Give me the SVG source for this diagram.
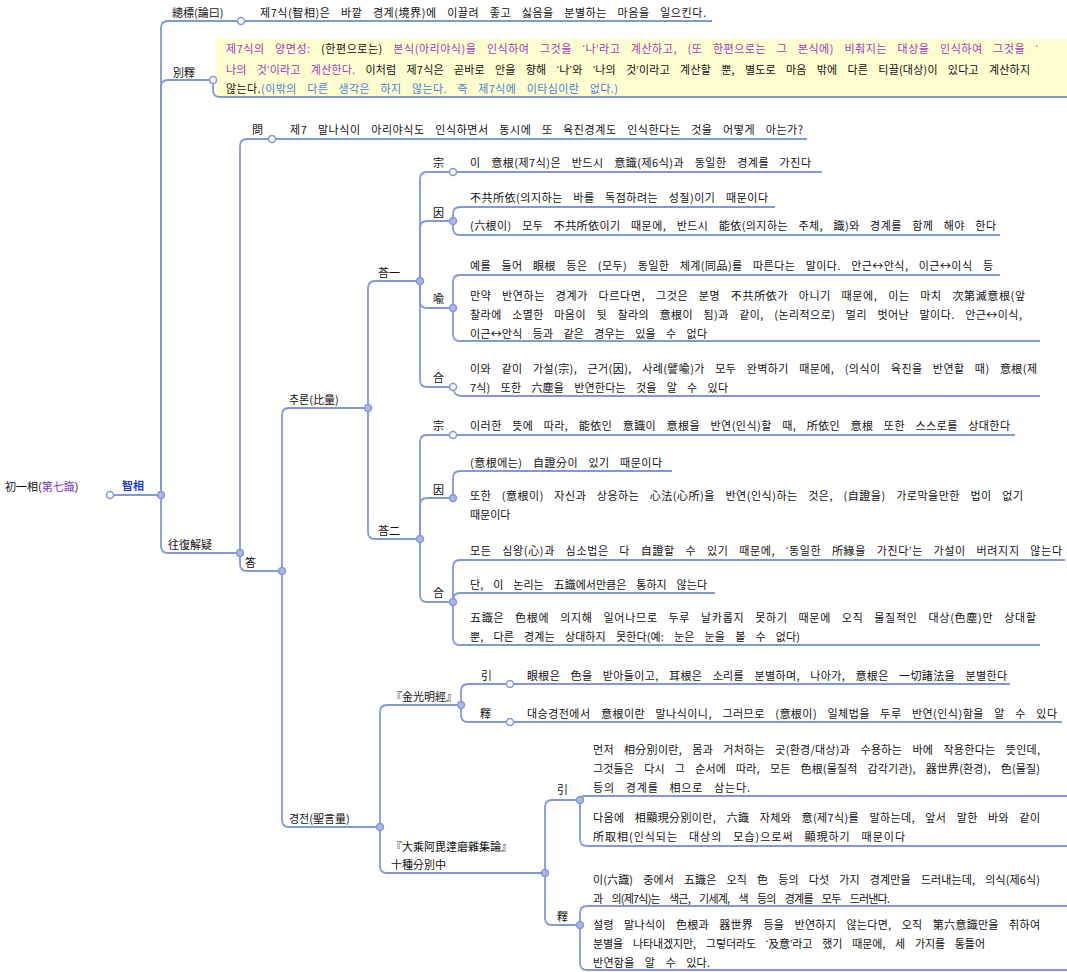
<svg xmlns="http://www.w3.org/2000/svg" width="1067" height="972" viewBox="0 0 1067 972">
<style>
.tx{font-family:"Noto Sans CJK KR","Noto Sans",sans-serif;font-size:11px;fill:#111;word-spacing:7.5px}
.lb{font-family:"Noto Sans CJK KR","Noto Sans",sans-serif;font-size:11px;fill:#111}
.q{font-family:"Liberation Sans",sans-serif}
.pu{fill:#a03cbe}
.bl{fill:#4a7fd6}
.c{fill:none;stroke:#8498d8;stroke-width:1.8}
.o{fill:#fff;stroke:#8498d8;stroke-width:1.5}
.d{fill:#a9b8e8;stroke:#8498d8;stroke-width:1.5}
</style>
<rect width="1067" height="972" fill="#fff"/>
<rect x="216" y="39" width="851" height="58" fill="#fefdd0"/>
<g id="connectors">
<path class="c" d="M110 495H161"/>
<path class="c" d="M161 495V28Q161 21 168 21H241"/>
<path class="c" d="M161 495V87Q161 80 168 80H213"/>
<path class="c" d="M161 495V546Q161 553 168 553H240"/>
<path class="c" d="M241 21H712"/>
<path class="c" d="M213 80V90Q213 97 220 97H1067"/>
<path class="c" d="M240 553V146Q240 139 247 139H272"/>
<path class="c" d="M240 553V564Q240 571 247 571H282"/>
<path class="c" d="M272 139H807"/>
<path class="c" d="M282 571V415Q282 408 289 408H368"/>
<path class="c" d="M282 571V820Q282 827 289 827H380"/>
<path class="c" d="M368 408V288Q368 281 375 281H420"/>
<path class="c" d="M368 408V532Q368 539 375 539H420"/>
<path class="c" d="M420 281V179Q420 172 427 172H453"/>
<path class="c" d="M420 281V228Q420 221 427 221H453"/>
<path class="c" d="M420 281V301Q420 308 427 308H453"/>
<path class="c" d="M420 281V380Q420 387 427 387H453"/>
<path class="c" d="M453 172H822"/>
<path class="c" d="M453 221V214Q453 207 460 207H775"/>
<path class="c" d="M453 221V228Q453 235 460 235H1000"/>
<path class="c" d="M453 308V282Q453 275 460 275H1000"/>
<path class="c" d="M453 308V334Q453 341 460 341H1040"/>
<path class="c" d="M453 387Q453 396 462 396H1040"/>
<path class="c" d="M420 539V442Q420 435 427 435H453"/>
<path class="c" d="M420 539V505Q420 498 427 498H453"/>
<path class="c" d="M420 539V595Q420 602 427 602H453"/>
<path class="c" d="M453 435H1015"/>
<path class="c" d="M453 498V478Q453 471 460 471H672"/>
<path class="c" d="M453 602V567Q453 560 460 560H1065"/>
<path class="c" d="M453 602V600Q453 593 460 593H715"/>
<path class="c" d="M453 602V638Q453 645 460 645H1040"/>
<path class="c" d="M380 827V712Q380 705 387 705H461"/>
<path class="c" d="M380 827V866Q380 873 387 873H545"/>
<path class="c" d="M461 705V691Q461 684 468 684H510"/>
<path class="c" d="M461 705V715Q461 722 468 722H510"/>
<path class="c" d="M510 684H1010"/>
<path class="c" d="M510 722H1062"/>
<path class="c" d="M545 873V807Q545 800 552 800H580"/>
<path class="c" d="M545 873V918Q545 925 552 925H580"/>
<path class="c" d="M580 800Q580 796 585 796H1067"/>
<path class="c" d="M580 800V839Q580 846 587 846H1067"/>
<path class="c" d="M580 925V913Q580 906 587 906H1067"/>
<path class="c" d="M580 925V963Q580 970 587 970H1067"/>
<circle class="o" cx="110" cy="495" r="3.5"/>
<circle class="o" cx="241" cy="21" r="3.5"/>
<circle class="o" cx="213" cy="80" r="3.5"/>
<circle class="o" cx="272" cy="139" r="3.5"/>
<circle class="o" cx="453" cy="172" r="3.5"/>
<circle class="o" cx="453" cy="387" r="3.5"/>
<circle class="o" cx="453" cy="435" r="3.5"/>
<circle class="o" cx="510" cy="684" r="3.5"/>
<circle class="o" cx="510" cy="722" r="3.5"/>
<circle class="d" cx="580" cy="800" r="3.5"/>
<circle class="d" cx="580" cy="925" r="3.5"/>
<circle class="d" cx="161" cy="495" r="3.5"/>
<circle class="d" cx="240" cy="553" r="3.5"/>
<circle class="d" cx="282" cy="571" r="3.5"/>
<circle class="d" cx="368" cy="408" r="3.5"/>
<circle class="d" cx="380" cy="827" r="3.5"/>
<circle class="d" cx="420" cy="281" r="3.5"/>
<circle class="d" cx="420" cy="539" r="3.5"/>
<circle class="d" cx="453" cy="221" r="3.5"/>
<circle class="d" cx="453" cy="308" r="3.5"/>
<circle class="d" cx="453" cy="498" r="3.5"/>
<circle class="d" cx="453" cy="602" r="3.5"/>
<circle class="d" cx="461" cy="705" r="3.5"/>
<circle class="d" cx="545" cy="873" r="3.5"/>
</g>
<g id="root"><text class="lb" x="5" y="491">初一相(<tspan fill="#7a3fbf">第七識</tspan>)</text></g>
<g id="n-jisang"><text class="lb" x="122" y="490" style="fill:#1f3fd6;font-weight:bold">智相</text></g>
<g id="n-chongpyo"><text class="lb" x="172" y="17">總標(論曰)</text></g>
<g id="n-chongpyo-t"><text class="tx" x="260" y="17" textLength="446" lengthAdjust="spacing">제7식(智相)은 바깥 경계(境界)에 이끌려 좋고 싫음을 분별하는 마음을 일으킨다.</text></g>
<g id="n-byeolseok"><text class="lb" x="173" y="77">別釋</text></g>
<g id="n-yellow">
<text class="tx" x="226" y="53" textLength="812" lengthAdjust="spacing"><tspan class="pu">제7식의 양면성:</tspan> (한편으로는) <tspan class="pu">본식(아리야식)을 인식하여 그것을 <tspan class="q">‘</tspan>나<tspan class="q">’</tspan>라고 계산하고, (또 한편으로는 그 본식에) 비춰지는 대상을 인식하여 그것을 <tspan class="q">‘</tspan></tspan></text>
<text class="tx" x="226" y="74" textLength="804" lengthAdjust="spacing"><tspan class="pu">나의 것<tspan class="q">’</tspan>이라고 계산한다.</tspan> 이처럼 제7식은 곧바로 안을 향해 <tspan class="q">‘</tspan>나<tspan class="q">’</tspan>와 <tspan class="q">‘</tspan>나의 것<tspan class="q">’</tspan>이라고 계산할 뿐, 별도로 마음 밖에 다른 티끌(대상)이 있다고 계산하지</text>
<text class="tx" x="226" y="93" textLength="392" lengthAdjust="spacing">않는다.<tspan class="bl">(이밖의 다른 생각은 하지 않는다. 즉 제7식에 이타심이란 없다.)</tspan></text>
</g>
<g id="n-wangbok"><text class="lb" x="168" y="549">往復解疑</text></g>
<g id="n-mun"><text class="lb" x="252" y="134">問</text></g>
<g id="n-mun-t"><text class="tx" x="290" y="134" textLength="513" lengthAdjust="spacing">제7 말나식이 아리야식도 인식하면서 동시에 또 육진경계도 인식한다는 것을 어떻게 아는가?</text></g>
<g id="n-dap"><text class="lb" x="245" y="567">答</text></g>
<g id="n-churon"><text class="lb" x="289" y="404">추론(比量)</text></g>
<g id="n-gyeongjeon"><text class="lb" x="289" y="823">경전(聖言量)</text></g>
<g id="n-dap1"><text class="lb" x="378" y="277">荅一</text></g>
<g id="n-dap2"><text class="lb" x="378" y="535">荅二</text></g>
<g id="n-jong1"><text class="lb" x="433" y="167">宗</text><text class="tx" x="470" y="167" textLength="341" lengthAdjust="spacing">이 意根(제7식)은 반드시 意識(제6식)과 동일한 경계를 가진다</text></g>
<g id="n-in1"><text class="lb" x="433" y="217">因</text></g>
<g id="n-in1-a"><text class="tx" x="470" y="202" textLength="298" lengthAdjust="spacing">不共所依(의지하는 바를 독점하려는 성질)이기 때문이다</text></g>
<g id="n-in1-b"><text class="tx" x="470" y="230" textLength="526" lengthAdjust="spacing">(六根이) 모두 不共所依이기 때문에, 반드시 能依(의지하는 주체, 識)와 경계를 함께 해야 한다</text></g>
<g id="n-yu1"><text class="lb" x="433" y="303">喩</text></g>
<g id="n-yu1-a"><text class="tx" x="470" y="270" textLength="523" lengthAdjust="spacing">예를 들어 眼根 등은 (모두) 동일한 체계(同品)를 따른다는 말이다. 안근↔안식, 이근↔이식 등</text></g>
<g id="n-yu1-b">
<text class="tx" x="470" y="300" textLength="555" lengthAdjust="spacing">만약 반연하는 경계가 다르다면, 그것은 분명 不共所依가 아니기 때문에, 이는 마치 次第滅意根(앞</text>
<text class="tx" x="470" y="319" textLength="552" lengthAdjust="spacing">찰라에 소멸한 마음이 뒷 찰라의 意根이 됨)과 같이, (논리적으로) 멀리 벗어난 말이다. 안근↔이식,</text>
<text class="tx" x="470" y="338" textLength="237" lengthAdjust="spacing">이근↔안식 등과 같은 경우는 있을 수 없다</text>
</g>
<g id="n-hap1"><text class="lb" x="433" y="382">合</text></g>
<g id="n-hap1-t">
<text class="tx" x="470" y="373" textLength="567" lengthAdjust="spacing">이와 같이 가설(宗), 근거(因), 사례(譬喩)가 모두 완벽하기 때문에, (의식이 육진을 반연할 때) 意根(제</text>
<text class="tx" x="470" y="392" textLength="258" lengthAdjust="spacing">7식) 또한 六塵을 반연한다는 것을 알 수 있다</text>
</g>
<g id="n-jong2"><text class="lb" x="433" y="430">宗</text><text class="tx" x="470" y="430" textLength="540" lengthAdjust="spacing">이러한 뜻에 따라, 能依인 意識이 意根을 반연(인식)할 때, 所依인 意根 또한 스스로를 상대한다</text></g>
<g id="n-in2"><text class="lb" x="433" y="494">因</text></g>
<g id="n-in2-a"><text class="tx" x="470" y="467" textLength="192" lengthAdjust="spacing">(意根에는) 自證分이 있기 때문이다</text></g>
<g id="n-in2-b">
<text class="tx" x="470" y="500" textLength="553" lengthAdjust="spacing">또한 (意根이) 자신과 상응하는 心法(心所)을 반연(인식)하는 것은, (自證을) 가로막을만한 법이 없기</text>
<text class="tx" x="470" y="519">때문이다</text>
</g>
<g id="n-hap2"><text class="lb" x="433" y="597">合</text></g>
<g id="n-hap2-a"><text class="tx" x="470" y="555" textLength="592" lengthAdjust="spacing">모든 심왕(心)과 심소법은 다 自證할 수 있기 때문에, <tspan class="q">‘</tspan>동일한 所緣을 가진다<tspan class="q">’</tspan>는 가설이 버려지지 않는다</text></g>
<g id="n-hap2-b"><text class="tx" x="470" y="589" textLength="237" lengthAdjust="spacing">단, 이 논리는 五識에서만큼은 통하지 않는다</text></g>
<g id="n-hap2-c">
<text class="tx" x="470" y="622" textLength="566" lengthAdjust="spacing">五識은 色根에 의지해 일어나므로 두루 날카롭지 못하기 때문에 오직 물질적인 대상(色塵)만 상대할</text>
<text class="tx" x="470" y="641" textLength="330" lengthAdjust="spacing">뿐, 다른 경계는 상대하지 못한다(예: 눈은 눈을 볼 수 없다)</text>
</g>
<g id="n-geumgwang"><text class="lb" x="391" y="701">『金光明經』</text></g>
<g id="n-in3"><text class="lb" x="481" y="680">引</text><text class="tx" x="527" y="680" textLength="480" lengthAdjust="spacing">眼根은 色을 받아들이고, 耳根은 소리를 분별하며, 나아가, 意根은 一切諸法을 분별한다</text></g>
<g id="n-seok3"><text class="lb" x="480" y="718">釋</text><text class="tx" x="527" y="718" textLength="530" lengthAdjust="spacing">대승경전에서 意根이란 말나식이니, 그러므로 (意根이) 일체법을 두루 반연(인식)함을 알 수 있다</text></g>
<g id="n-daeseung"><text class="lb" x="391" y="851">『大乘阿毘達磨雜集論』</text><text class="lb" x="391" y="869">十種分別中</text></g>
<g id="n-in4"><text class="lb" x="557" y="794">引</text></g>
<g id="n-in4-a">
<text class="tx" x="593" y="754" textLength="447" lengthAdjust="spacing">먼저 相分別이란, 몸과 거처하는 곳(환경/대상)과 수용하는 바에 작용한다는 뜻인데,</text>
<text class="tx" x="593" y="773" textLength="447" lengthAdjust="spacing">그것들은 다시 그 순서에 따라, 모든 色根(물질적 감각기관), 器世界(환경), 色(물질)</text>
<text class="tx" x="593" y="792" textLength="157" lengthAdjust="spacing">등의 경계를 相으로 삼는다.</text>
</g>
<g id="n-in4-b">
<text class="tx" x="593" y="822" textLength="447" lengthAdjust="spacing">다음에 相顯現分別이란, 六識 자체와 意(제7식)를 말하는데, 앞서 말한 바와 같이</text>
<text class="tx" x="593" y="841" textLength="312" lengthAdjust="spacing">所取相(인식되는 대상의 모습)으로써 顯現하기 때문이다</text>
</g>
<g id="n-seok4"><text class="lb" x="557" y="921">釋</text></g>
<g id="n-seok4-a">
<text class="tx" x="593" y="884" textLength="447" lengthAdjust="spacing">이(六識) 중에서 五識은 오직 色 등의 다섯 가지 경계만을 드러내는데, 의식(제6식)</text>
<text class="tx" x="593" y="903" textLength="297" lengthAdjust="spacing">과 의(제7식)는 색근, 기세계, 색 등의 경계를 모두 드러낸다.</text>
</g>
<g id="n-seok4-b">
<text class="tx" x="593" y="929" textLength="447" lengthAdjust="spacing">설령 말나식이 色根과 器世界 등을 반연하지 않는다면, 오직 第六意識만을 취하여</text>
<text class="tx" x="593" y="948" textLength="392" lengthAdjust="spacing">분별을 나타내겠지만, 그렇더라도 <tspan class="q">‘</tspan>及意<tspan class="q">’</tspan>라고 했기 때문에, 세 가지를 통틀어</text>
<text class="tx" x="593" y="967" textLength="117" lengthAdjust="spacing">반연함을 알 수 있다.</text>
</g>
</svg>
